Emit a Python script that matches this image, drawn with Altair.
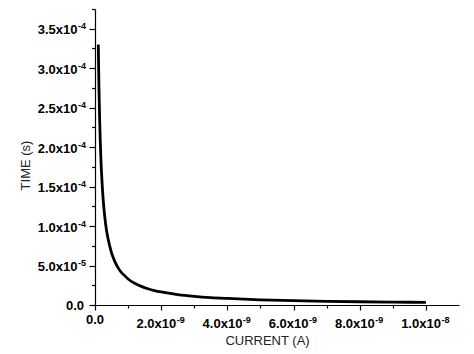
import altair as alt
import pandas as pd

# Current (A) and time (s)
current = [1.0e-10, 1.1e-10, 1.2e-10, 1.4e-10, 1.6e-10, 1.8e-10, 2.0e-10, 2.5e-10,
           3.0e-10, 3.5e-10, 4.0e-10, 5.0e-10, 6.0e-10, 7.0e-10, 8.0e-10, 9.0e-10,
           1.0e-9, 1.2e-9, 1.4e-9, 1.6e-9, 1.8e-9, 2.0e-9, 2.5e-9, 3.0e-9,
           3.5e-9, 4.0e-9, 5.0e-9, 6.0e-9, 7.0e-9, 8.0e-9, 9.0e-9, 1.0e-8]
time = [3.30e-4, 3.00e-4, 2.75e-4, 2.36e-4, 2.06e-4, 1.83e-4, 1.65e-4, 1.32e-4,
        1.10e-4, 9.4e-5, 8.3e-5, 6.6e-5, 5.5e-5, 4.7e-5, 4.1e-5, 3.7e-5,
        3.3e-5, 2.75e-5, 2.36e-5, 2.06e-5, 1.83e-5, 1.65e-5, 1.32e-5, 1.10e-5,
        9.4e-6, 8.3e-6, 6.6e-6, 5.5e-6, 4.7e-6, 4.1e-6, 3.7e-6, 3.3e-6]

# tick positions (major + minor)
x_tick_values = [i * 1e-9 for i in range(12)]
y_tick_values = [i * 2.5e-5 for i in range(16)]

# major tick labels: mantissa part and exponent part
x_label_values = [2e-9, 4e-9, 6e-9, 8e-9, 1e-8]
x_label_base = ["2.0x10", "4.0x10", "6.0x10", "8.0x10", "1.0x10"]
x_label_exp = ["-9", "-9", "-9", "-9", "-8"]
y_label_values = [5e-5, 1e-4, 1.5e-4, 2e-4, 2.5e-4, 3e-4, 3.5e-4]
y_label_base = ["5.0x10", "1.0x10", "1.5x10", "2.0x10", "2.5x10", "3.0x10", "3.5x10"]
y_label_exp = ["-5", "-4", "-4", "-4", "-4", "-4", "-4"]
zero_label = "0.0"

df = pd.DataFrame({"current": current, "time": time})
xl = pd.DataFrame({"current": x_label_values, "base": x_label_base, "exp": x_label_exp})
yl = pd.DataFrame({"time": y_label_values, "base": y_label_base, "exp": y_label_exp})
zx = pd.DataFrame({"current": [0.0], "base": [zero_label]})
zy = pd.DataFrame({"time": [0.0], "base": [zero_label]})

H = 296
FONT = "Liberation Sans"

x_major = "round(datum.value/1e-9) % 2 == 0"
y_major = "round(datum.value/2.5e-5) % 2 == 0"

xscale = alt.Scale(domain=[0, 1.1e-8], nice=False, zero=False)
yscale = alt.Scale(domain=[0, 3.75e-4], nice=False, zero=False)

x_axis = alt.Axis(
    title="CURRENT (A)", values=x_tick_values, labels=False,
    tickSize={"condition": {"test": x_major, "value": 5}, "value": 3},
    titleX=172, titleY=35, titleBaseline="middle", titleAlign="center",
)
y_axis = alt.Axis(
    title="TIME (s)", values=y_tick_values, labels=False,
    tickSize={"condition": {"test": y_major, "value": 6}, "value": 3.5},
    titleX=-70, titleY=156, titleBaseline="middle", titleAlign="center",
    titleAngle=-90,
)

X = alt.X("current:Q", scale=xscale, axis=x_axis)
Y = alt.Y("time:Q", scale=yscale, axis=y_axis)

line = alt.Chart(df).mark_line(
    color="black", strokeWidth=2.8, interpolate="monotone"
).encode(x=X, y=Y)

txt = dict(font=FONT, fontSize=13, fontWeight="bold", color="black", baseline="middle")
sup = dict(font=FONT, fontSize=9, fontWeight="bold", color="black", baseline="middle")

# x-axis labels
x_base = alt.Chart(xl).mark_text(align="right", dx=15, **txt).encode(
    x=X, y=alt.value(H + 18.5), text="base:N")
x_exp = alt.Chart(xl).mark_text(align="left", dx=15.5, **sup).encode(
    x=X, y=alt.value(H + 15), text="exp:N")
x_zero = alt.Chart(zx).mark_text(align="center", **txt).encode(
    x=X, y=alt.value(H + 14.5), text="base:N")

# y-axis labels
y_base = alt.Chart(yl).mark_text(align="right", dy=1.5, **txt).encode(
    y=Y, x=alt.value(-17.5), text="base:N")
y_exp = alt.Chart(yl).mark_text(align="left", dy=-2.5, **sup).encode(
    y=Y, x=alt.value(-17), text="exp:N")
y_zero = alt.Chart(zy).mark_text(align="right", dy=0.5, **txt).encode(
    y=Y, x=alt.value(-11), text="base:N")

chart = alt.layer(line, x_base, x_exp, x_zero, y_base, y_exp, y_zero).properties(
    width=364, height=H,
    padding={"left": 95, "top": 9, "right": 15, "bottom": 49},
    autosize=alt.AutoSizeParams(type="none"),
).configure_view(
    stroke=None
).configure_axis(
    grid=False,
    domainColor="black", domainWidth=1.2,
    tickColor="black", tickWidth=1.2,
    titleFont=FONT, titleFontSize=13, titleFontWeight="normal",
    titleColor="#222222",
)

chart.save("out.html", embed_options={"renderer": "svg", "actions": False})
